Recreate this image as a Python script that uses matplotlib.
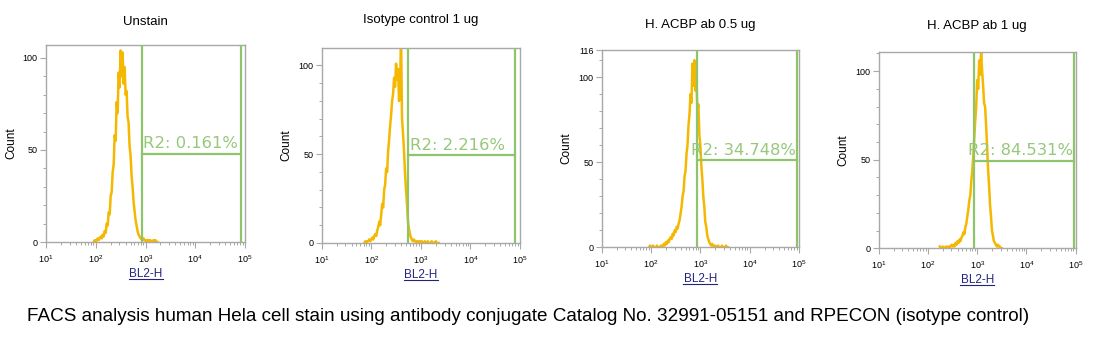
import matplotlib
matplotlib.use("Agg")
import matplotlib.pyplot as plt
import numpy as np
from matplotlib.ticker import FixedLocator, NullFormatter

plt.rcParams["font.family"] = ["Liberation Sans", "DejaVu Sans"]
plt.rcParams["mathtext.fontset"] = "custom"
plt.rcParams["mathtext.rm"] = "Liberation Sans"
plt.rcParams["mathtext.default"] = "regular"

W, H = 1110, 353

titles = ["Unstain", "Isotype control 1 ug", "H. ACBP ab 0.5 ug", "H. ACBP ab 1 ug"]
region_pct = ["0.161%", "2.216%", "34.748%", "84.531%"]
caption = ("FACS analysis human Hela cell stain using antibody conjugate "
           "Catalog No. 32991-05151 and RPECON (isotype control)")

# histogram channels: first log10(BL2-H) bin, bin width 0.02 decade
bin_step = 0.02
unstain_start = 1.96
unstain_count = [0, 1, 0, 1, 2, 1, 2, 3, 2, 4, 3, 6, 5, 10, 9, 16, 15, 25, 27, 38,
                 42, 58, 55, 76, 70, 92, 84, 104, 90, 103, 86, 95, 80, 82, 68, 65, 52, 47, 36, 30,
                 22, 17, 12, 9, 6, 4, 3, 2, 2, 1, 2, 1, 1, 0, 1, 1, 0, 1, 0, 0,
                 1, 0, 1, 0, 0]
isotype_start = 1.86
isotype_count = [0, 1, 0, 1, 1, 2, 1, 2, 3, 2, 4, 5, 4, 7, 9, 12, 10, 16, 22, 20,
                 30, 33, 42, 40, 52, 58, 66, 72, 80, 84, 93, 88, 101, 92, 98, 80, 85, 118, 70, 62,
                 52, 40, 30, 22, 12, 8, 5, 3, 2, 1, 2, 1, 1, 0, 1, 0, 1, 0, 1, 0,
                 0, 1, 0, 0, 1, 0, 0, 0, 1, 0, 0, 0, 1, 0, 0, 0]
acbp05_start = 1.96
acbp05_count = [0, 1, 0, 0, 1, 0, 0, 0, 1, 0, 0, 0, 1, 0, 1, 2, 1, 3, 2, 4,
                3, 5, 6, 5, 8, 7, 10, 9, 12, 11, 14, 16, 20, 24, 30, 33, 42, 45, 55, 60,
                72, 78, 90, 85, 108, 95, 110, 92, 100, 80, 84, 66, 60, 48, 40, 30, 24, 15, 12, 7,
                5, 3, 2, 1, 2, 1, 0, 1, 0, 0, 1, 0, 0, 0, 1, 0, 0, 0, 1, 0, 0]
acbp1_start = 2.24
acbp1_count = [1, 0, 0, 1, 0, 0, 1, 0, 1, 0, 1, 1, 2, 1, 2, 1, 3, 2, 4, 3,
               5, 4, 6, 7, 9, 8, 12, 14, 18, 22, 27, 30, 38, 44, 52, 62, 72, 80, 95, 90,
               106, 98, 111, 100, 92, 82, 80, 70, 58, 45, 36, 25, 18, 10, 7, 4, 3, 2, 1, 2,
               1, 1, 0, 0]

hist_starts = [unstain_start, isotype_start, acbp05_start, acbp1_start]
hist_counts = [unstain_count, isotype_count, acbp05_count, acbp1_count]

# R2 gate: low / high BL2-H bound and the count level of the bar
gate_low = [850, 560, 850, 850]
gate_high = [85000, 80000, 91000, 91000]
gate_level = [47.7, 49.3, 51.2, 49.5]
label_align = ["left", "left", "right", "right"]

y_max = [107, 110, 116, 111]
y_ticks = [[0, 50, 100], [0, 50, 100], [0, 50, 100, 116], [0, 50, 100]]
x_ticks = [10, 100, 1000, 10000, 100000]
x_ticklabels = [r"$10^{1}$", r"$10^{2}$", r"$10^{3}$", r"$10^{4}$", r"$10^{5}$"]

# axes boxes in pixels: left, top, right, bottom
boxes = [(46, 45, 245, 242), (321.7, 47.7, 520, 243),
         (601.7, 50, 799, 247.3), (878.7, 51.7, 1075.7, 248.3)]
title_y = [22, 20, 25, 26]

hist_color = "#F5B800"
gate_color = "#8EC46C"
frame_color = "#A8A8A8"

fig = plt.figure(figsize=(W / 100, H / 100), dpi=100)
fig.patch.set_facecolor("white")

for i in range(4):
    l, t, r, b = boxes[i]
    aw, ah = r - l, b - t
    ax = fig.add_axes([l / W, 1 - b / H, aw / W, ah / H])

    counts = np.array(hist_counts[i], dtype=float)
    logx = hist_starts[i] + bin_step * np.arange(len(counts))
    ax.plot(10 ** logx, counts, color=hist_color, lw=1.8, zorder=2)

    # gate
    ax.axvline(gate_low[i], color=gate_color, lw=1.6, zorder=3)
    ax.axvline(gate_high[i], color=gate_color, lw=1.6, zorder=3)
    ax.plot([gate_low[i], gate_high[i]], [gate_level[i], gate_level[i]],
            color=gate_color, lw=1.6, zorder=3)
    if label_align[i] == "left":
        lx = gate_low[i] * 1.06
    else:
        lx = gate_high[i] * 0.96
    ax.text(lx, gate_level[i] + 1.5, "R2: " + region_pct[i], color="#96C87C",
            fontsize=11.8, family="DejaVu Sans", ha=label_align[i], va="bottom", zorder=4)

    ax.set_xscale("log")
    ax.set_xlim(10, 100000)
    ax.set_ylim(0, y_max[i])

    ax.xaxis.set_major_locator(FixedLocator(x_ticks))
    ax.set_xticklabels(x_ticklabels)
    ax.xaxis.set_minor_locator(FixedLocator(
        [m * 10 ** e for e in range(1, 5) for m in range(2, 10)]))
    ax.xaxis.set_minor_formatter(NullFormatter())
    ax.set_yticks(y_ticks[i])
    ax.yaxis.set_minor_locator(FixedLocator(np.arange(10, y_max[i], 10)))

    ax.tick_params(axis="both", which="major", colors=frame_color, labelcolor="black",
                   labelsize=6.5, length=4, width=0.8, pad=2)
    ax.tick_params(axis="both", which="minor", colors=frame_color, length=2.5, width=0.7)
    ax.tick_params(axis="x", which="major", pad=4)
    for s in ax.spines.values():
        s.set_color(frame_color)
        s.set_linewidth(1.0)

    ax.text(-35 / aw, 0.5, "Count", transform=ax.transAxes, rotation=90,
            ha="center", va="center", fontsize=8.5)
    ax.text(0.5, -35 / ah, "BL2-H", transform=ax.transAxes, ha="center",
            va="baseline", fontsize=8.5, color="#23237E")
    ax.plot([0.5 - 17 / aw, 0.5 + 17 / aw], [-37 / ah, -37 / ah], transform=ax.transAxes,
            color="#23237E", lw=0.8, clip_on=False)

    fig.text((l + aw / 2) / W, 1 - title_y[i] / H, titles[i], ha="center", va="center",
             fontsize=9.5)

fig.text(26.7 / W, 1 - 320.7 / H, caption, ha="left", va="baseline", fontsize=13.6)

fig.savefig("out.png", dpi=100, facecolor="white")
